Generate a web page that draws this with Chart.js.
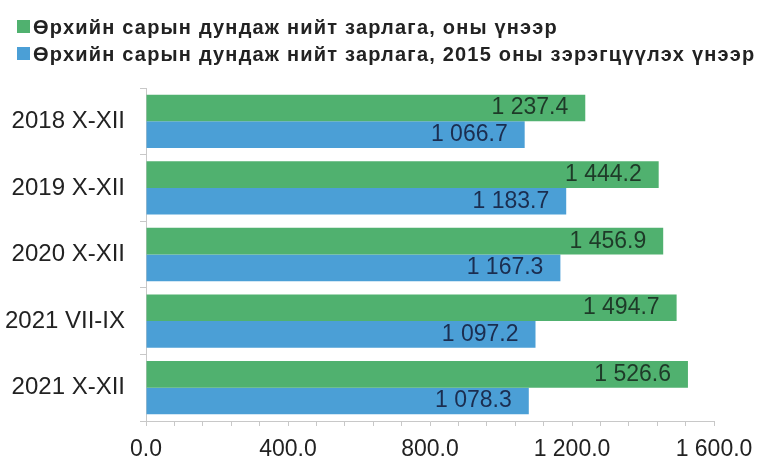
<!DOCTYPE html>
<html>
<head>
<meta charset="utf-8">
<script src="https://cdn.jsdelivr.net/npm/chart.js@4"></script>
<style>
    html, body { margin: 0; padding: 0; background: #ffffff; }
    #wrap { width: 763px; height: 457px; position: relative; }
    .legend-row {
        position: absolute;
        left: 0;
        height: 28px;
        line-height: 28px;
        font-family: 'Liberation Sans', Arial, sans-serif;
        font-size: 20px;
        font-weight: bold;
        letter-spacing: 1.2px;
        color: #222;
        white-space: nowrap;
    }
    .legend-box {
        position: absolute;
        left: 17px;
        top: 7px;
        width: 13px;
        height: 13px;
    }
    .legend-text { position: absolute; left: 33px; top: 0; }
</style>
</head>
<body>
<div id="wrap">
    <div id="legend"></div>
    <canvas id="expenseChart"></canvas>
</div>
<script>
// ===== Data =====
const categories = ['2018 X-XII', '2019 X-XII', '2020 X-XII', '2021 VII-IX', '2021 X-XII'];
const currentPrices = [1237.4, 1444.2, 1456.9, 1494.7, 1526.6];
const constantPrices2015 = [1066.7, 1183.7, 1167.3, 1097.2, 1078.3];
const seriesNames = [
    'Өрхийн сарын дундаж нийт зарлага, оны үнээр',
    'Өрхийн сарын дундаж нийт зарлага, 2015 оны зэрэгцүүлэх үнээр'
];
const seriesColors = ['#50b16f', '#4b9fd6'];
const xMax = 1600;
const xStep = 80;       // minor tick spacing
const xLabelStep = 400; // labelled ticks

const FONT = 'Liberation Sans, Arial, sans-serif';

// number like "1 237.4"
function formatNumber(v) {
    const parts = v.toFixed(1).split('.');
    parts[0] = parts[0].replace(/\B(?=(\d{3})+(?!\d))/g, ' ');
    return parts.join('.');
}

// Value labels drawn just inside the bar end
const barLabels = {
    id: 'barLabels',
    afterDatasetsDraw(chart) {
        const ctx = chart.ctx;
        ctx.save();
        ctx.font = '23px ' + FONT;
        ctx.textAlign = 'right';
        ctx.textBaseline = 'middle';
        chart.data.datasets.forEach((ds, i) => {
            const meta = chart.getDatasetMeta(i);
            meta.data.forEach((bar, j) => {
                ctx.fillStyle = i === 0 ? '#1e3a28' : '#1b2d4f';
                ctx.fillText(formatNumber(ds.data[j]), bar.x - 17, bar.y);
            });
        });
        ctx.restore();
    }
};

function buildLegend() {
    const legend = document.getElementById('legend');
    const tops = [13, 40];
    seriesNames.forEach((name, i) => {
        const row = document.createElement('div');
        row.className = 'legend-row';
        row.style.top = tops[i] + 'px';
        const box = document.createElement('span');
        box.className = 'legend-box';
        box.style.background = seriesColors[i];
        const text = document.createElement('span');
        text.className = 'legend-text';
        text.textContent = name;
        row.appendChild(box);
        row.appendChild(text);
        legend.appendChild(row);
    });
}

document.addEventListener('DOMContentLoaded', function() {
    buildLegend();

    const ctx = document.getElementById('expenseChart');
    new Chart(ctx, {
        type: 'bar',
        data: {
            labels: categories,
            datasets: [{
                label: seriesNames[0],
                data: currentPrices,
                backgroundColor: seriesColors[0],
                categoryPercentage: 0.8,
                barPercentage: 1.0
            }, {
                label: seriesNames[1],
                data: constantPrices2015,
                backgroundColor: seriesColors[1],
                categoryPercentage: 0.8,
                barPercentage: 1.0
            }]
        },
        options: {
            indexAxis: 'y',
            responsive: true,
            maintainAspectRatio: false,
            animation: false,
            layout: { padding: { left: 0, right: 49, top: 88, bottom: 0 } },
            plugins: {
                legend: { display: false },
                tooltip: { enabled: false }
            },
            scales: {
                x: {
                    min: 0,
                    max: xMax,
                    afterFit: function(scale) { scale.height = 36; },
                    ticks: {
                        stepSize: xStep,
                        autoSkip: false,
                        maxRotation: 0,
                        padding: 10,
                        color: '#222',
                        font: { family: FONT, size: 23 },
                        callback: function(v) {
                            return v % xLabelStep === 0 ? formatNumber(v) : '';
                        }
                    },
                    grid: {
                        drawOnChartArea: false,
                        tickLength: 5,
                        color: '#c8c8c8'
                    },
                    border: { color: '#c8c8c8' }
                },
                y: {
                    afterFit: function(scale) { scale.width = 146; },
                    ticks: {
                        padding: 15,
                        color: '#222',
                        font: { family: FONT, size: 24 }
                    },
                    grid: {
                        drawOnChartArea: false,
                        tickLength: 6,
                        color: '#c8c8c8'
                    },
                    border: { color: '#c8c8c8' }
                }
            }
        },
        plugins: [barLabels]
    });
});
</script>
</body>
</html>
